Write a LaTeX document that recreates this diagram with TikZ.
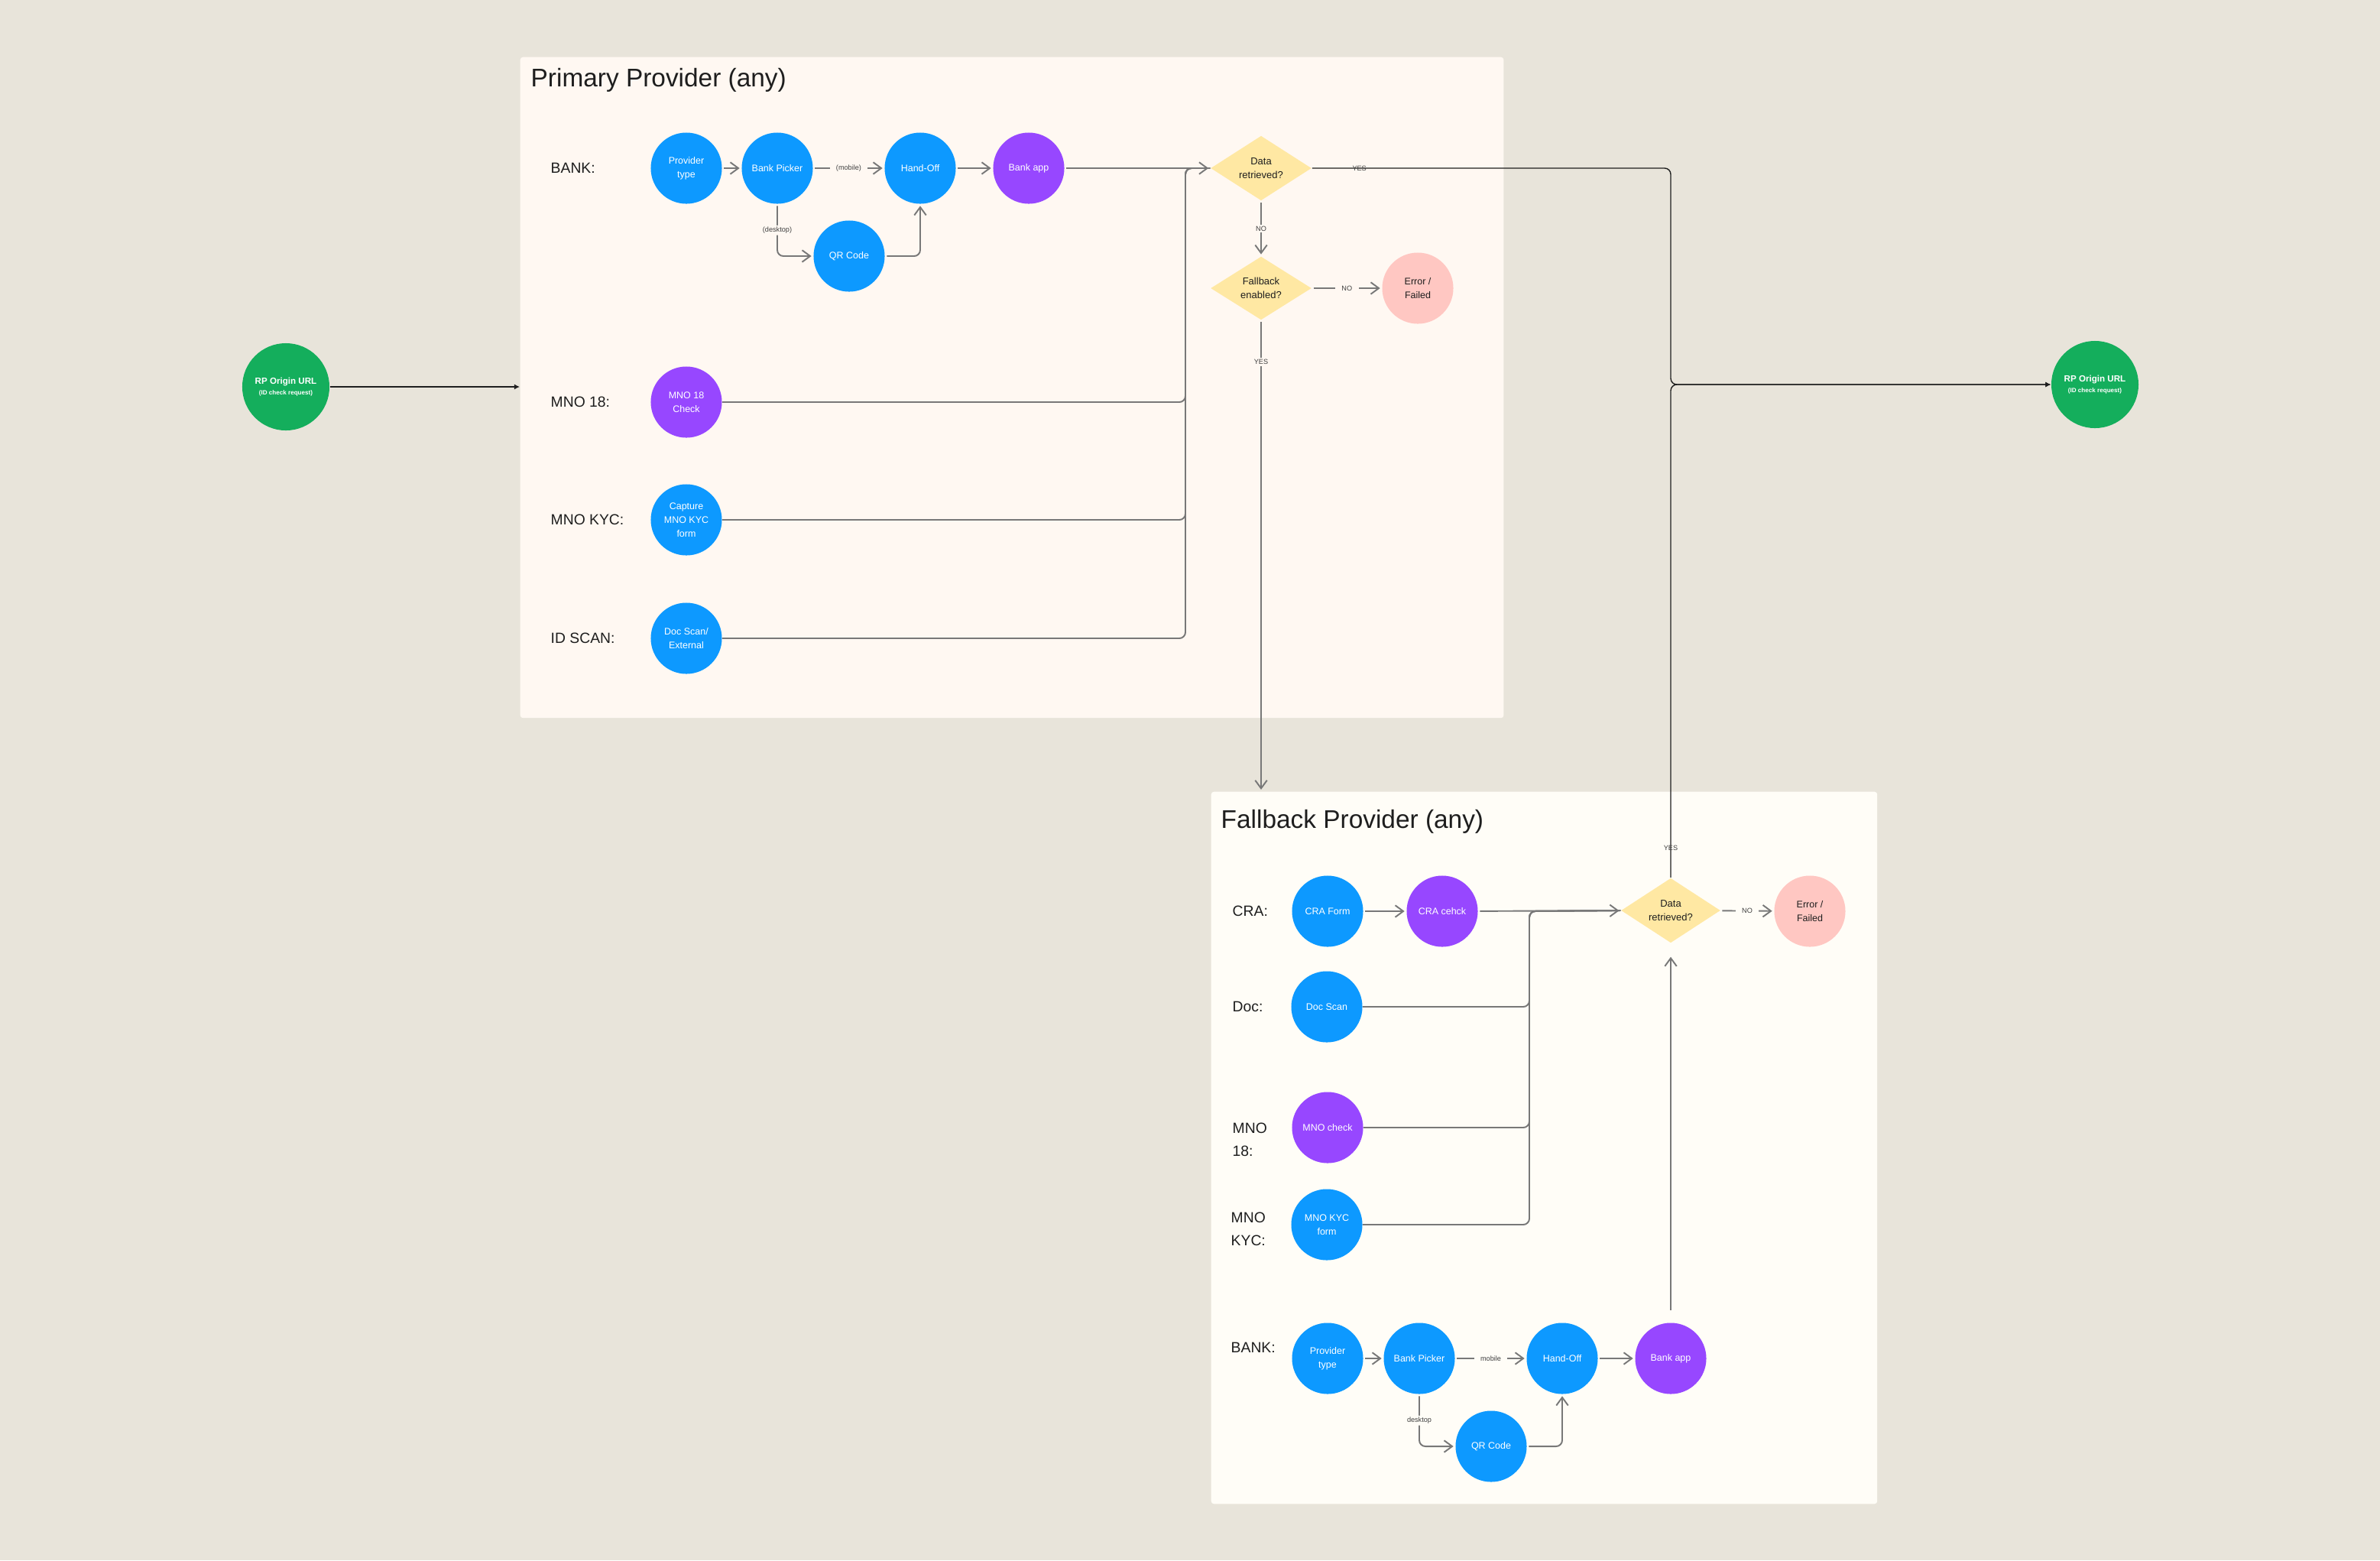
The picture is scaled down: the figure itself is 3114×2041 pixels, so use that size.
\documentclass[tikz,border=0pt]{standalone}
\usepackage{fontspec}
\setmainfont{Liberation Sans}
\usetikzlibrary{arrows.meta,shapes.geometric,positioning}

\definecolor{canvas}{HTML}{E8E4DA}
\definecolor{primbg}{HTML}{FFF8F2}
\definecolor{fallbg}{HTML}{FFFDF7}
\definecolor{figblue}{HTML}{0D99FF}
\definecolor{figpurple}{HTML}{9747FF}
\definecolor{figgreen}{HTML}{14AE5C}
\definecolor{figyellow}{HTML}{FFE8A3}
\definecolor{figpink}{HTML}{FFC7C2}
\definecolor{flowgray}{HTML}{787878}
\definecolor{ink}{HTML}{1E1E1E}

\tikzset{
  panel/.style={fill=#1, rounded corners=1pt, inner sep=0pt, anchor=north west},
  blob/.style={circle, minimum size=0.93cm, inner sep=0pt, text=white, align=center,
    font=\fontsize{3.55}{5.1}\selectfont},
  bluenode/.style={blob, fill=figblue},
  purplenode/.style={blob, fill=figpurple},
  errnode/.style={blob, fill=figpink, text=ink},
  origin/.style={circle, fill=figgreen, minimum size=1.14cm, inner sep=0pt, text=white,
    align=center, font=\bfseries\fontsize{3.3}{4.2}\selectfont},
  decision/.style={diamond, fill=figyellow, minimum width=1.32cm, minimum height=0.83cm,
    inner sep=0pt, align=center, text=ink, font=\fontsize{3.7}{5.1}\selectfont},
  rowlabel/.style={anchor=west, align=left, inner sep=0pt, text=ink,
    font=\fontsize{5.5}{8.5}\selectfont},
  paneltitle/.style={anchor=base west, inner sep=0pt, text=ink, font=\fontsize{9.5}{11}\selectfont},
  tag/.style={text=ink!85, inner xsep=2.4pt, inner ysep=0.6pt, font=\fontsize{2.6}{3}\selectfont},
  flow/.style={draw=flowgray, line width=0.55pt, shorten <=0.6pt, shorten >=0.6pt,
    -{Straight Barb[length=3pt,width=4.4pt]}},
  busline/.style={draw=flowgray, line width=0.55pt, rounded corners=0.08cm},
  yesline/.style={draw=ink, line width=0.4pt, rounded corners=0.08cm,
    -{Latex[length=2pt,width=2pt]}}
}

\begin{document}
\begin{tikzpicture}[x=0.01cm, y=-0.01cm]
  \fill[canvas] (0,0) rectangle (3114,2041);
  \useasboundingbox (0,0) rectangle (3114,2041);

  % panels
  \node[panel=primbg, minimum width=12.86cm, minimum height=8.64cm] (primary) at (680,74) {};
  \node[panel=fallbg, minimum width=8.71cm, minimum height=9.31cm] (fallback) at (1584,1035) {};
  \node[paneltitle] at (694,113) {Primary Provider (any)};
  \node[paneltitle] at (1597,1083) {Fallback Provider (any)};

  % origin
  \node[origin] (rpin) at (374,506) {RP Origin URL\\[-0.2pt]{\fontsize{2.3}{3}\selectfont (ID check request)}};
  \node[origin] (rpout) at (2741,503) {RP Origin URL\\[-0.2pt]{\fontsize{2.3}{3}\selectfont (ID check request)}};
  \draw[yesline] (rpin) -- (rpin -| primary.west);

  % primary provider
  \node[rowlabel] at (720,220) {BANK:};
  \node[rowlabel] at (720,526) {MNO 18:};
  \node[rowlabel] at (720,680) {MNO KYC:};
  \node[rowlabel] at (720,835) {ID SCAN:};

  \node[bluenode] (ptype) at (898,220) {Provider\\type};
  \node[bluenode] (bpick) at (1017,220) {Bank Picker};
  \node[bluenode] (hoff) at (1204,220) {Hand-Off};
  \node[purplenode] (bapp) at (1346,220) {Bank app};
  \node[bluenode] (qr) at (1111,335) {QR Code};
  \node[purplenode] (mno18) at (898,526) {MNO 18\\Check};
  \node[bluenode] (mnokyc) at (898,680) {Capture\\MNO KYC\\form};
  \node[bluenode] (idscan) at (898,835) {Doc Scan/\\External};

  \node[decision] (dr) at (1650,220) {Data\\retrieved?};
  \node[decision] (fe) at (1650,377) {Fallback\\enabled?};
  \node[errnode] (err) at (1855,377) {Error /\\Failed};

  \draw[flow] (ptype) -- (bpick);
  \draw[flow] (bpick) -- node[tag, fill=primbg] {(mobile)} (hoff);
  \draw[flow] (hoff) -- (bapp);
  \draw[flow, rounded corners=0.08cm] (bpick) |- node[tag, fill=primbg, pos=0.25] {(desktop)} (qr);
  \draw[flow, rounded corners=0.08cm] (qr) -| (hoff);
  \draw[flow] (bapp) -- (dr);

  \coordinate (pbus) at (1551,220);
  \foreach \n in {mno18, mnokyc, idscan}
    \draw[busline] (\n) -| (pbus) -- (dr.west);

  \draw[flow] (dr) -- node[tag, fill=primbg] {NO} (fe);
  \draw[flow] (fe) -- node[tag, fill=primbg] {NO} (err);
  \draw[flow] (fe) -- node[tag, fill=primbg, pos=0.088] {YES} (fe |- fallback.north);

  % fallback provider
  \node[rowlabel] at (1612,1192) {CRA:};
  \node[rowlabel] at (1612,1317) {Doc:};
  \node[rowlabel] at (1612,1491) {MNO\\18:};
  \node[rowlabel] at (1610,1608) {MNO\\KYC:};
  \node[rowlabel] at (1610,1763) {BANK:};

  \node[bluenode] (craform) at (1737,1192) {CRA Form};
  \node[purplenode] (cracheck) at (1887,1192) {CRA cehck};
  \node[bluenode] (docscan) at (1736,1317) {Doc Scan};
  \node[purplenode] (mnocheck) at (1737,1475) {MNO check};
  \node[bluenode] (mnoform) at (1736,1602) {MNO KYC\\form};

  \node[bluenode] (fptype) at (1737,1777) {Provider\\type};
  \node[bluenode] (fbpick) at (1857,1777) {Bank Picker};
  \node[bluenode] (fhoff) at (2044,1777) {Hand-Off};
  \node[purplenode] (fbapp) at (2186,1777) {Bank app};
  \node[bluenode] (fqr) at (1951,1892) {QR Code};

  \node[decision, minimum width=1.30cm, minimum height=0.82cm] (fdr) at (2186,1191) {Data\\retrieved?};
  \node[errnode] (ferr) at (2368,1192) {Error /\\Failed};

  \draw[flow] (craform) -- (cracheck);
  \draw[flow] (cracheck) -- (fdr);
  \coordinate (fbus) at (2001,1192);
  \foreach \n in {docscan, mnocheck, mnoform}
    \draw[busline] (\n) -| (fbus) -- (fdr.west);
  \draw[flow] (fdr) -- node[tag, fill=fallbg] {NO} (ferr);

  \draw[flow] (fptype) -- (fbpick);
  \draw[flow] (fbpick) -- node[tag, fill=fallbg] {mobile} (fhoff);
  \draw[flow] (fhoff) -- (fbapp);
  \draw[flow, rounded corners=0.08cm] (fbpick) |- node[tag, fill=fallbg, pos=0.25] {desktop} (fqr);
  \draw[flow, rounded corners=0.08cm] (fqr) -| (fhoff);
  \draw[flow, shorten <=4.6pt, shorten >=5pt] (fbapp) -- (fdr);

  % success paths
  \coordinate (junc) at (2186,503);
  \draw[yesline] (dr) -| node[tag, pos=0.066] {YES} (junc) -- (rpout);
  \draw[yesline] (fdr) -- node[tag, pos=0.059] {YES} (junc) -- (rpout);
\end{tikzpicture}
\end{document}
